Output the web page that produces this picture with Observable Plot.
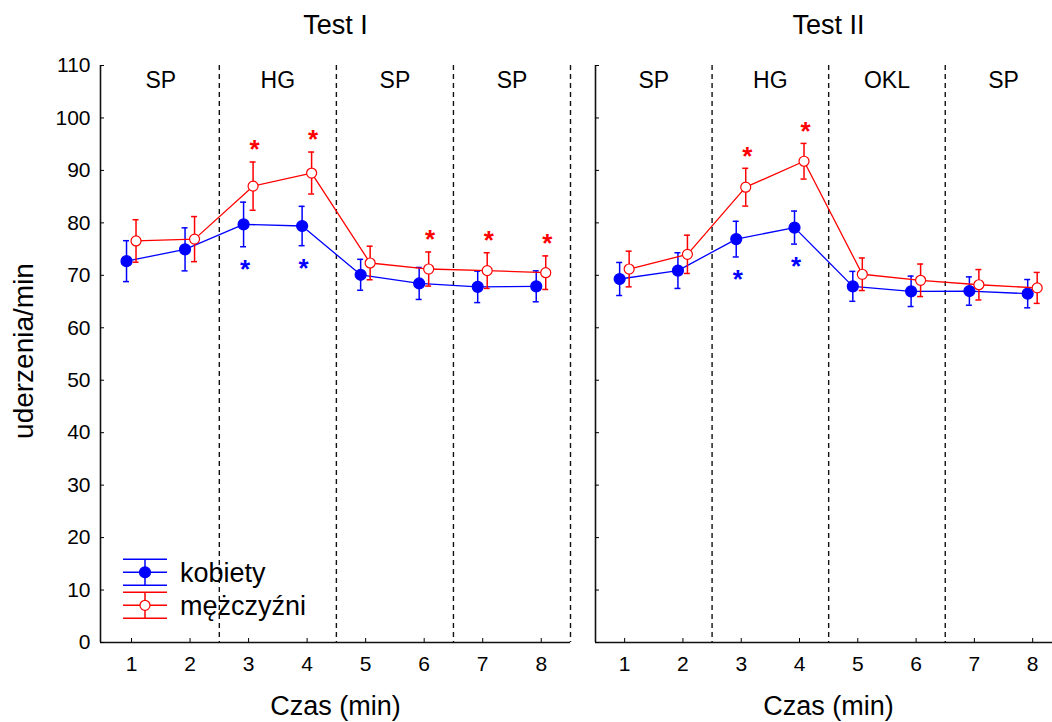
<!DOCTYPE html>
<html><head><meta charset="utf-8">
<script src="https://cdn.jsdelivr.net/npm/d3@7"></script>
<script src="https://cdn.jsdelivr.net/npm/@observablehq/plot@0.6"></script>
<style>
html,body{margin:0;padding:0;background:#fff;overflow:hidden}
#wrap{position:relative;width:1052px;height:722px;overflow:hidden;font-family:"Liberation Sans",Arial,sans-serif}
#wrap > svg{position:absolute;top:0}
</style></head><body><div id="wrap"></div>
<script>
// ---- data ----
const minutes = [1, 2, 3, 4, 5, 6, 7, 8];
const testTitles = ["Test I", "Test II"];
const phasesTest1 = ["SP", "HG", "SP", "SP"];
const phasesTest2 = ["SP", "HG", "OKL", "SP"];
const phaseBounds = [0.5, 2.5, 4.5, 6.5, 8.5];
const seriesNames = ["kobiety", "mężczyźni"];
const yTicks = [0, 10, 20, 30, 40, 50, 60, 70, 80, 90, 100, 110];
const xLabel = "Czas (min)";
const yLabel = "uderzenia/min";

// Test I
const t1KobietyMean = [72.7, 74.95, 79.7, 79.4, 70.1, 68.45, 67.8, 67.9];
const t1KobietyErr  = [3.9, 4.1, 4.25, 3.75, 2.95, 3.05, 3.0, 2.95];
const t1MezczyzniMean = [76.55, 76.9, 87.0, 89.5, 72.35, 71.2, 70.9, 70.5];
const t1MezczyzniErr  = [4.05, 4.3, 4.6, 4.0, 3.2, 3.25, 3.4, 3.2];
const t1KobietySig = [0, 0, 1, 1, 0, 0, 0, 0];
const t1MezczyzniSig = [0, 0, 1, 1, 0, 1, 1, 1];

// Test II
const t2KobietyMean = [69.3, 70.9, 76.9, 79.1, 67.9, 66.95, 67.0, 66.5];
const t2KobietyErr  = [3.15, 3.4, 3.4, 3.15, 2.85, 2.9, 2.7, 2.7];
const t2MezczyzniMean = [71.2, 74.0, 86.8, 91.75, 70.2, 69.05, 68.2, 67.6];
const t2MezczyzniErr  = [3.4, 3.65, 3.6, 3.4, 3.1, 3.1, 2.9, 2.95];
const t2KobietySig = [0, 0, 1, 1, 0, 0, 0, 0];
const t2MezczyzniSig = [0, 0, 1, 1, 0, 0, 0, 0];

// ---- helpers ----
const BLUE = "#0000ff", RED = "#ff0000", INK = "#111";
const FONT = "'Liberation Sans', Arial, sans-serif";
function rows(means, errs, sig) {
  return minutes.map((m, i) => ({minute: m, mean: means[i], lo: means[i] - errs[i], hi: means[i] + errs[i], sig: sig[i]}));
}

function seriesMarks(data, color, filled, shift) {
  const common = {x: "minute", dx: shift, stroke: color};
  return [
    Plot.line(data, {...common, y: "mean", strokeWidth: 1.3}),
    Plot.ruleX(data, {...common, y1: "lo", y2: "hi", strokeWidth: 1.5}),
    Plot.ruleY(data, {x1: "minute", x2: "minute", y: "lo", dx: shift, stroke: color, strokeWidth: 1.5, insetLeft: -3, insetRight: -3}),
    Plot.ruleY(data, {x1: "minute", x2: "minute", y: "hi", dx: shift, stroke: color, strokeWidth: 1.5, insetLeft: -3, insetRight: -3}),
    Plot.dot(data, {x: "minute", y: "mean", dx: shift, r: filled ? 5.5 : 5, fill: filled ? color : "white", stroke: color, strokeWidth: 1.2})
  ];
}

function starMarks(data, color, above, shift) {
  return Plot.text(data.filter(d => d.sig), {
    x: "minute", y: above ? "hi" : "lo", text: () => "*", lineAnchor: "middle",
    dx: shift + 1.5, dy: above ? -12 : 23, fill: color, fontSize: 26, fontWeight: "bold"
  });
}

function panel({title, phases, kob, mez, showYLabels, width, marginLeft, marginRight, xDomain, titleDx}) {
  const bounds = phaseBounds.filter(b => b > xDomain[0] + 0.1 && b <= xDomain[1] + 0.001);
  const centers = phases.map((p, i) => ({label: p, x: (phaseBounds[i] + phaseBounds[i + 1]) / 2}));
  const marks = [
    Plot.ruleX(bounds, {stroke: INK, strokeWidth: 1.4, strokeDasharray: "5,4"}),
    Plot.ruleX([xDomain[0]], {stroke: INK, strokeWidth: 1.6}),
    Plot.ruleY([0], {stroke: INK, strokeWidth: 1.6}),
    Plot.axisY({ticks: yTicks, tickSize: 4, dx: 4, tickPadding: 10, label: null, fontSize: 21,
      tickFormat: showYLabels ? (d => String(d)) : (() => "")}),
    Plot.axisX({ticks: minutes, tickSize: 4, dy: -4, tickPadding: 14, label: null, fontSize: 21, tickFormat: d => String(d)}),
    Plot.text(centers, {x: "x", text: "label", frameAnchor: "top", lineAnchor: "middle", dy: 15, fontSize: 23, fill: "#000"}),
    Plot.text([title], {frameAnchor: "top", lineAnchor: "middle", dy: -40, dx: titleDx, fontSize: 27, fill: "#000"}),
    Plot.text([xLabel], {frameAnchor: "bottom", lineAnchor: "middle", dy: 64, dx: titleDx, fontSize: 27, fill: "#000"}),
    ...seriesMarks(kob, BLUE, true, -5),
    ...seriesMarks(mez, RED, false, 4.5),
    starMarks(kob, BLUE, false, -5),
    starMarks(mez, RED, true, 4.5)
  ];
  if (showYLabels) {
    marks.push(Plot.text([yLabel], {frameAnchor: "left", textAnchor: "middle", lineAnchor: "middle", rotate: -90, dx: -76, dy: -3, fontSize: 28, fill: "#000"}));
  }
  return Plot.plot({
    width, height: 722, marginTop: 65, marginBottom: 80, marginLeft, marginRight,
    x: {domain: xDomain}, y: {domain: [0, 110]},
    style: {fontFamily: FONT, fontSize: "21px", color: "#000", background: "transparent", overflow: "visible"},
    marks
  });
}

const wrap = document.getElementById("wrap");
const left = panel({
  title: testTitles[0], phases: phasesTest1,
  kob: rows(t1KobietyMean, t1KobietyErr, t1KobietySig),
  mez: rows(t1MezczyzniMean, t1MezczyzniErr, t1MezczyzniSig),
  showYLabels: true, width: 583, marginLeft: 100, marginRight: 13, xDomain: [0.47, 8.5], titleDx: 0
});
left.style.left = "0px";
const right = panel({
  title: testTitles[1], phases: phasesTest2,
  kob: rows(t2KobietyMean, t2KobietyErr, t2KobietySig),
  mez: rows(t2MezczyzniMean, t2MezczyzniErr, t2MezczyzniSig),
  showYLabels: false, width: 492, marginLeft: 35, marginRight: 0, xDomain: [0.5, 8.34], titleDx: 4.5
});
right.style.left = "560px";
wrap.appendChild(left);
wrap.appendChild(right);

// legend (inside left panel, lower-left)
const leg = d3.select(wrap).append("svg").attr("width", 260).attr("height", 80)
  .style("left", "110px").style("top", "550px").style("position", "absolute");
const legItems = [{name: seriesNames[0], color: BLUE, filled: true}, {name: seriesNames[1], color: RED, filled: false}];
legItems.forEach((it, i) => {
  const g = leg.append("g").attr("transform", `translate(0,${22.3 + i * 33})`);
  [-13, 0, 13].forEach(dy => g.append("line").attr("x1", 13).attr("x2", 57).attr("y1", dy).attr("y2", dy).attr("stroke", it.color).attr("stroke-width", 1.5));
  g.append("line").attr("x1", 35).attr("x2", 35).attr("y1", -13).attr("y2", 13).attr("stroke", it.color).attr("stroke-width", 1.5);
  g.append("circle").attr("cx", 35).attr("cy", 0).attr("r", it.filled ? 5.5 : 5).attr("fill", it.filled ? it.color : "white").attr("stroke", it.color).attr("stroke-width", 1.2);
  g.append("text").attr("x", 70).attr("y", 0).attr("dy", "0.36em").attr("font-size", 27).attr("font-family", FONT).attr("fill", "#000").text(it.name);
});
</script></body></html>
